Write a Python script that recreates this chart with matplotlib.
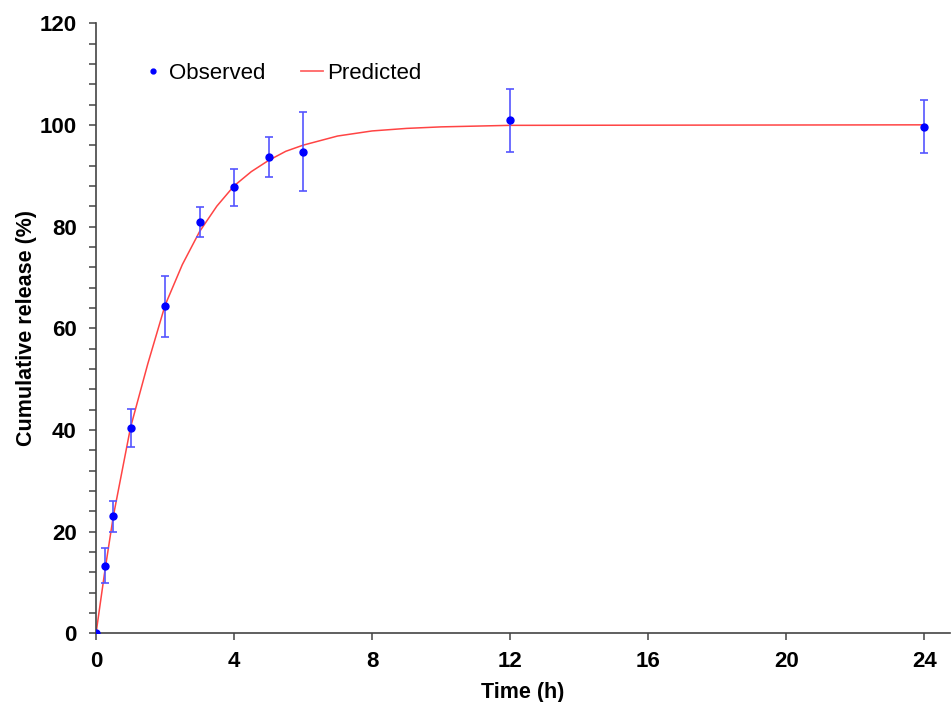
import matplotlib.pyplot as plt
from matplotlib.lines import Line2D
import numpy as np

plt.rcParams['font.family'] = ['Liberation Sans', 'DejaVu Sans']

# observed release (mean and SD)
obs_time = [0, 0.25, 0.5, 1, 2, 3, 4, 5, 6, 12, 24]
obs_release = [0, 13.3, 23.0, 40.4, 64.3, 80.9, 87.7, 93.7, 94.7, 100.9, 99.6]
obs_sd = [0, 3.4, 3.0, 3.7, 6.0, 3.0, 3.6, 4.0, 7.8, 6.2, 5.2]

# predicted release curve
pred_time = [0, 0.25, 0.5, 1, 1.5, 2, 2.5, 3, 3.5, 4, 4.5, 5, 5.5, 6, 7, 8, 9, 10, 12, 24]
pred_release = [0, 12.0, 23.0, 40.5, 53.0, 64.5, 72.5, 79.0, 84.0, 88.0, 90.8,
                93.0, 94.8, 96.0, 97.8, 98.8, 99.3, 99.6, 99.9, 100.0]

fig = plt.figure(figsize=(9.51, 7.02), dpi=100)
ax = fig.add_axes([0.101, 0.098, 0.898, 0.869])

ax.plot(pred_time, pred_release, color='#ff4444', lw=1.1, zorder=2)
ax.errorbar(obs_time, obs_release, yerr=obs_sd, fmt='o', color='#0000ff', ms=5,
            ecolor='#5555ff', elinewidth=1.2, capsize=3, capthick=1.2, zorder=3)

ax.set_xlim(0, 24.75)
ax.set_ylim(0, 120)
ax.set_xticks([0, 4, 8, 12, 16, 20, 24])
ax.set_yticks([0, 20, 40, 60, 80, 100, 120])
ax.set_yticks(np.arange(0, 121, 4), minor=True)

for s in ['top', 'right']:
    ax.spines[s].set_visible(False)
for s in ['left', 'bottom']:
    ax.spines[s].set_color('#444444')
    ax.spines[s].set_linewidth(1.2)

ax.tick_params(axis='both', which='major', length=5, width=1.1, color='#444444',
               labelsize=16)
ax.tick_params(axis='x', which='major', pad=8)
ax.tick_params(axis='y', which='major', pad=9)
ax.tick_params(axis='y', which='minor', length=5, width=1.1, color='#444444')
for lab in ax.get_xticklabels() + ax.get_yticklabels():
    lab.set_fontweight('bold')

ax.set_xlabel('Time (h)', fontsize=15.5, fontweight='bold', labelpad=7)
ax.set_ylabel('Cumulative release (%)', fontsize=15.5, fontweight='bold', labelpad=2)

handles = [Line2D([], [], ls='none', marker='o', ms=3.5, color='#0000ff'),
           Line2D([], [], color='#ff6666', lw=1.3)]
ax.legend(handles, ['Observed', 'Predicted'], loc='center left',
          bbox_to_anchor=(0.054, 0.918), ncol=2, frameon=False, fontsize=16,
          handlelength=1.0, handletextpad=0.2, columnspacing=1.6, borderpad=0,
          borderaxespad=0)

fig.savefig('out.png', dpi=100)
